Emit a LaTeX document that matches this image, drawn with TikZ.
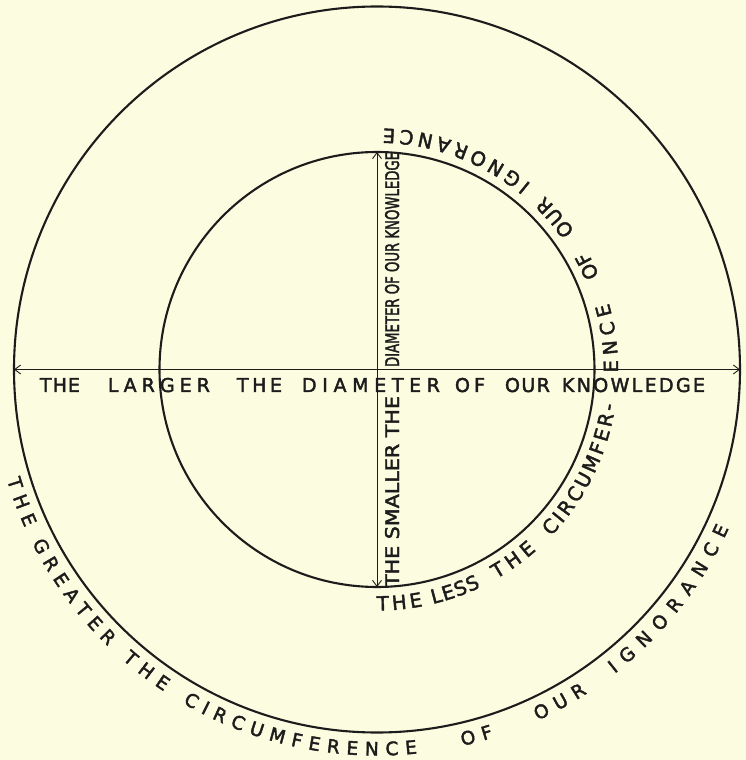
\documentclass[tikz,border=0pt]{standalone}
\usepackage{fontspec}
\usepackage{graphicx}
\setmainfont{DejaVu Sans}[FakeBold=2.2]
\usetikzlibrary{decorations.text,arrows.meta}
\definecolor{paper}{RGB}{252,252,224}
\definecolor{ink}{RGB}{28,28,28}
\tikzset{
  ring/.style={draw=ink, line width=2.1pt, circle, inner sep=0pt, outer sep=0pt},
  axisline/.style={draw=ink, line width=0.9pt,
    {Straight Barb[length=6pt,width=9pt]}-{Straight Barb[length=6pt,width=9pt]}},
  vtext/.style={rotate=90, anchor=base west, inner sep=0pt, outer sep=0pt, text=ink},
}
% word along an arc: radius, start angle, end angle, font size, text
\newcommand\arcword[5]{%
  \path[decorate,decoration={text along path,text color=ink,
     text={|\fontsize{#4}{#4}\selectfont|#5},text align={fit to path}}]
     (#2:#1pt) arc[start angle=#2,end angle=#3,radius=#1pt];}
% word along a straight baseline: x1, x2, y, text
\newcommand\lineword[4]{%
  \path[decorate,decoration={text along path,text color=ink,
     text={|\fontsize{19}{19}\selectfont|#4},text align={fit to path}}]
     (#1pt,#3pt) -- (#2pt,#3pt);}
\begin{document}
\begin{tikzpicture}[x=1pt,y=1pt]
\fill[paper] (-377,-390.5) rectangle (369,369.5);
\useasboundingbox (-377,-390.5) rectangle (369,369.5);

\node[ring, minimum size=726pt] (outer) at (0,0) {};
\node[ring, minimum size=435pt] (inner) at (0,0) {};

\draw[axisline] (outer.west) -- (outer.east);
\draw[axisline] (inner.south) -- (inner.north);

% horizontal text
\lineword{-337}{-297}{-22.5}{THE}
\lineword{-269}{-167}{-22.5}{LARGER}
\lineword{-140}{-95}{-22.5}{THE}
\lineword{-75}{63}{-22.5}{DIAMETER}
\lineword{78}{108}{-22.5}{OF}
\lineword{128}{173}{-22.5}{OUR}
\lineword{185}{328}{-22.5}{KNOWLEDGE}

% vertical text
\node[vtext] (vlow) at (22,-217.5) {\resizebox{191pt}{14pt}{THE SMALLER THE}};
\node[vtext] (vup) at (22,2.5) {\resizebox{215pt}{14pt}{DIAMETER OF OUR KNOWLEDGE}};

% text round the inner circle
\arcword{241}{270}{281}{19.5}{THE}
\arcword{241}{283.4}{295.5}{19.5}{LESS}
\arcword{241}{299.7}{311.4}{19.5}{THE}
\arcword{241}{316.2}{351.6}{19.5}{CIRCUMFER-}
\arcword{241}{359.3}{376}{19.5}{ENCE}
\arcword{241}{382.9}{389.4}{19.5}{OF}
\arcword{241}{395}{406}{19.5}{OUR}
\arcword{241}{410.3}{448.5}{19.5}{IGNORANCE}

% text round the outer circle
\arcword{386}{196.6}{204.2}{18.5}{THE}
\arcword{386}{206.7}{225.8}{18.5}{GREATER}
\arcword{386}{228.7}{236.5}{18.5}{THE}
\arcword{386}{239.8}{276}{18.5}{CIRCUMFERENCE}
\arcword{386}{282.8}{287.6}{18.5}{OF}
\arcword{386}{294.6}{303}{18.5}{OUR}
\arcword{386}{308}{335.7}{18.5}{IGNORANCE}
\end{tikzpicture}
\end{document}
